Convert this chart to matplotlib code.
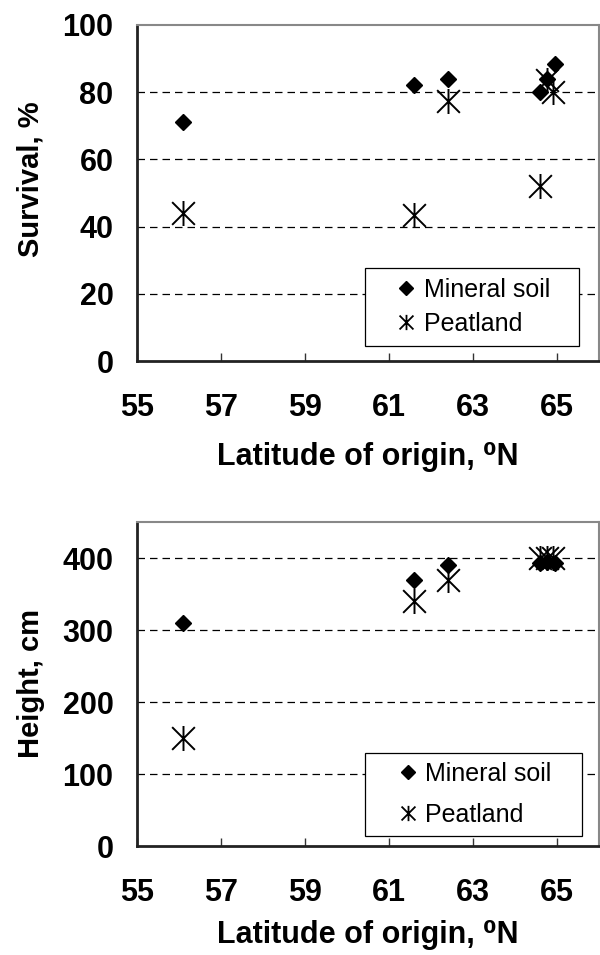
import matplotlib
matplotlib.use("Agg")
import matplotlib.pyplot as plt
from matplotlib.path import Path
from matplotlib.patches import Rectangle

plt.rcParams['font.family'] = ['Liberation Sans', 'DejaVu Sans']

# Survival (%) vs latitude
lat_min_surv = [56.1, 61.6, 62.4, 64.6, 64.75, 64.95]
surv_min = [71, 82, 84, 80, 84, 88.5]
lat_peat_surv = [56.1, 61.6, 62.4, 64.6, 64.75, 64.9]
surv_peat = [44, 43.5, 77.5, 52, 83.5, 80]

# Height (cm) vs latitude
lat_min_h = [56.1, 61.6, 62.4, 64.6, 64.75, 64.95]
h_min = [310, 370, 390, 393, 395, 393]
lat_peat_h = [56.1, 61.6, 62.4, 64.6, 64.75, 64.9]
h_peat = [150, 340, 370, 400, 400, 400]

xticks = [55, 57, 59, 61, 63, 65]
yticks_surv = [0, 20, 40, 60, 80, 100]
yticks_h = [0, 100, 200, 300, 400]

star = Path([(-1, -1), (1, 1), (-1, 1), (1, -1), (0, -1.1), (0, 1.1)],
            [Path.MOVETO, Path.LINETO, Path.MOVETO, Path.LINETO, Path.MOVETO, Path.LINETO])

fig = plt.figure(figsize=(6.0, 9.55), dpi=100)
ax1 = fig.add_axes([137/600, 1-361/955, 462/600, 336/955])
ax2 = fig.add_axes([137/600, 1-846/955, 462/600, 324/955])

def style(ax, ylim, yticks, ylabel, grid_vals, label_y, xlabelpad):
    ax.set_xlim(55, 66)
    ax.set_ylim(*ylim)
    ax.set_xticks(xticks)
    ax.set_xticklabels([str(t) for t in xticks])
    ax.set_yticks(yticks)
    ax.set_yticklabels([str(t) for t in yticks])
    ax.tick_params(axis='x', direction='in', length=6, width=1, color='#333333',
                   pad=23, labelsize=22)
    ax.tick_params(axis='y', length=0, pad=17, labelsize=22)
    for lbl in ax.get_xticklabels() + ax.get_yticklabels():
        lbl.set_fontweight('bold')
    for v in grid_vals:
        ax.axhline(v, color='black', lw=0.9, ls=(0, (6, 4)), zorder=1)
    for s in ['left', 'bottom']:
        ax.spines[s].set_color('#222222')
        ax.spines[s].set_linewidth(2)
    for s in ['top', 'right']:
        ax.spines[s].set_color('#888888')
        ax.spines[s].set_linewidth(1.5)
    ax.set_xlabel('Latitude of origin, ⁰N', fontsize=22, fontweight='bold',
                  labelpad=xlabelpad)
    ax.set_ylabel(ylabel, fontsize=21, fontweight='bold')
    ax.yaxis.set_label_coords(-0.2, label_y)

def draw(ax, lx1, y1, lx2, y2, frame, spacing):
    ax.plot(lx1, y1, ls='none', marker='D', ms=8, color='black', zorder=3,
            label='Mineral soil')
    ax.plot(lx2, y2, ls='none', marker=star, ms=18, mew=1.4, color='black',
            mfc='none', zorder=3, label='Peatland')
    x0, y0, x1, y1_ = frame
    ax.add_patch(Rectangle((x0, y0), x1 - x0, y1_ - y0, transform=ax.transAxes,
                           facecolor='white', edgecolor='black', lw=0.9, zorder=4))
    leg = ax.legend(loc='center', bbox_to_anchor=((x0 + x1) / 2, (y0 + y1_) / 2),
                    fontsize=18, frameon=False, markerscale=1.0,
                    handlelength=1.0, handletextpad=0.2, borderpad=0.0,
                    labelspacing=spacing)
    hs = leg.legend_handles
    hs[0].set_markersize(7.5)
    hs[1].set_markersize(11)
    hs[1].set_markeredgewidth(1.3)
    leg.set_zorder(5)

draw(ax1, lat_min_surv, surv_min, lat_peat_surv, surv_peat,
     (0.4935, 0.045, 0.957, 0.277), 0.4)
style(ax1, (0, 100), yticks_surv, 'Survival, %', [20, 40, 60, 80], 0.54, 14)

draw(ax2, lat_min_h, h_min, lat_peat_h, h_peat,
     (0.4935, 0.031, 0.963, 0.287), 0.7)
style(ax2, (0, 450), yticks_h, 'Height, cm', [100, 200, 300, 400], 0.5, 9)

fig.savefig('out.png', dpi=100)
